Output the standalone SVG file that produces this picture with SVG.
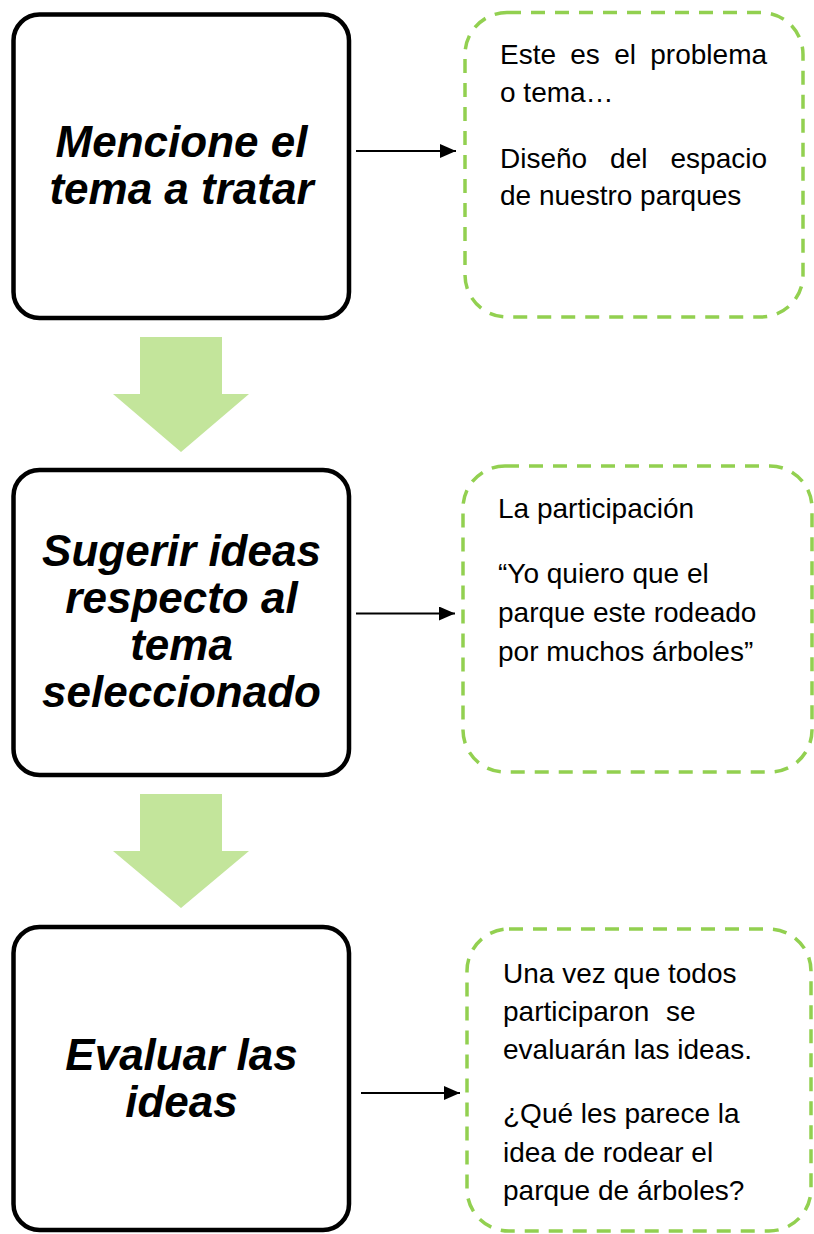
<svg xmlns="http://www.w3.org/2000/svg" width="814" height="1234" viewBox="0 0 814 1234">
<style>
.step{fill:#fff;stroke:#000;stroke-width:4.5}
.note{fill:#fff;stroke:#92D050;stroke-width:3.5;stroke-dasharray:14 10}
.title{font-family:"Liberation Sans",Arial,sans-serif;font-weight:bold;font-style:italic;font-size:44px;fill:#000;text-anchor:middle}
.body{font-family:"Liberation Sans",Arial,sans-serif;font-size:28px;fill:#000}
.flow{fill:#C3E59B}
.link{stroke:#000;stroke-width:2.2;fill:none;marker-end:url(#ah)}
</style>
<defs>
<marker id="ah" markerUnits="userSpaceOnUse" markerWidth="18" markerHeight="14" refX="16" refY="7" orient="auto">
<polygon points="0,0 16,7 0,14" fill="#000"/>
</marker>
</defs>
<rect width="814" height="1234" fill="#fff"/>

<g id="connectors">
<polygon class="flow" points="140,337 222,337 222,394 249,394 181,452 113,394 140,394"/>
<polygon class="flow" points="140,794 222,794 222,851 249,851 181,908 113,851 140,851"/>
<path class="link" d="M356,151 H456"/>
<path class="link" d="M356,613.5 H455"/>
<path class="link" d="M361,1093 H460"/>
</g>

<g id="step1">
<rect class="step" x="13.5" y="14.5" width="335.5" height="303.5" rx="26"/>
<text class="title" x="181.5"><tspan x="181.5" y="157">Mencione el</tspan><tspan x="181.5" y="204">tema a tratar</tspan></text>
</g>

<g id="step2">
<rect class="step" x="13.5" y="470" width="335.5" height="305" rx="26"/>
<text class="title"><tspan x="181.5" y="566">Sugerir ideas</tspan><tspan x="181.5" y="613">respecto al</tspan><tspan x="181.5" y="660">tema</tspan><tspan x="181.5" y="707">seleccionado</tspan></text>
</g>

<g id="step3">
<rect class="step" x="13.5" y="927" width="335.5" height="303" rx="26"/>
<text class="title"><tspan x="181.5" y="1070">Evaluar las</tspan><tspan x="181.5" y="1117">ideas</tspan></text>
</g>

<g id="note1">
<rect class="note" x="465" y="12.5" width="338" height="304.5" rx="42"/>
<text class="body"><tspan x="500" y="64">Este</tspan><tspan x="570.3" y="64">es</tspan><tspan x="614.2" y="64">el</tspan><tspan x="650.3" y="64">problema</tspan></text>
<text class="body" x="500" y="102">o tema…</text>
<text class="body"><tspan x="500" y="168">Diseño</tspan><tspan x="610.1" y="168">del</tspan><tspan x="670.5" y="168">espacio</tspan></text>
<text class="body" x="500" y="205">de nuestro parques</text>
</g>

<g id="note2">
<rect class="note" x="463" y="466" width="349" height="306" rx="42"/>
<text class="body" x="498" y="518">La participación</text>
<text class="body" x="498" y="583">“Yo quiero que el</text>
<text class="body" x="498" y="622">parque este rodeado</text>
<text class="body" x="498" y="661">por muchos árboles”</text>
</g>

<g id="note3">
<rect class="note" x="467" y="929" width="344" height="302" rx="42"/>
<text class="body" x="503" y="983">Una vez que todos</text>
<text class="body"><tspan x="503" y="1021">participaron</tspan><tspan x="666" y="1021">se</tspan></text>
<text class="body" x="503" y="1059">evaluarán las ideas.</text>
<text class="body" x="503" y="1123">¿Qué les parece la</text>
<text class="body" x="503" y="1162">idea de rodear el</text>
<text class="body" x="503" y="1200">parque de árboles?</text>
</g>
</svg>
